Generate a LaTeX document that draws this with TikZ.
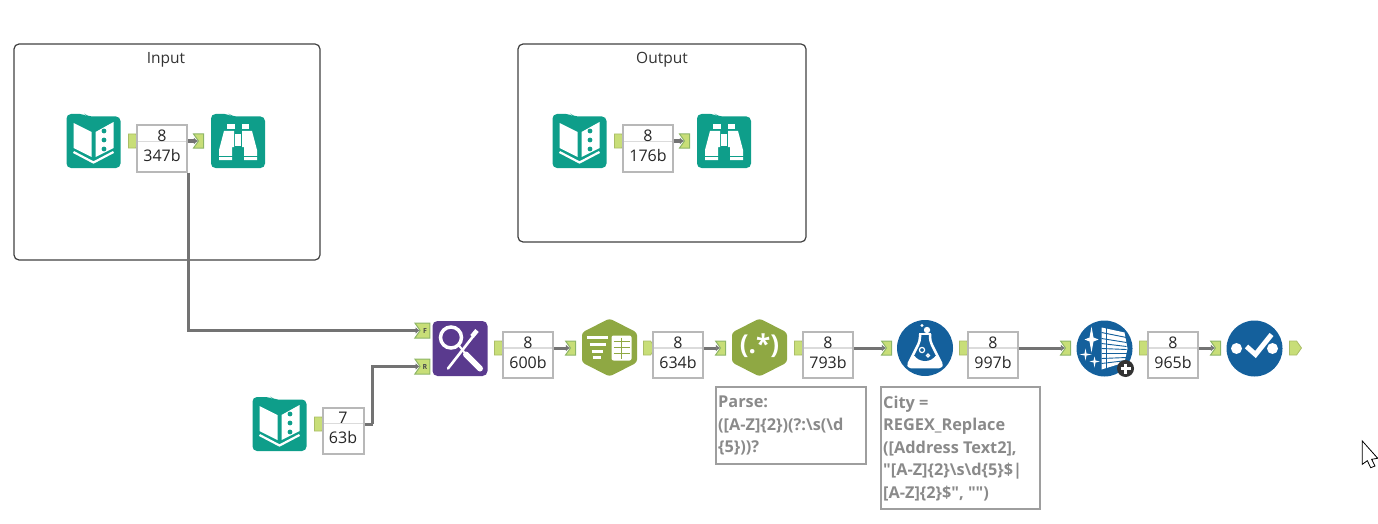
\documentclass[tikz,border=0pt]{standalone}
\usepackage{fontspec}
\setmainfont{Open Sans}
\newfontfamily\notefont{Open Sans}
\usetikzlibrary{shapes.geometric,shapes.symbols,arrows.meta}
\definecolor{teal1}{HTML}{0E9E8A}
\definecolor{purple1}{HTML}{5A3A8E}
\definecolor{olive1}{HTML}{8FA843}
\definecolor{blue1}{HTML}{14609C}
\definecolor{portfill}{HTML}{C8DE78}
\definecolor{portline}{HTML}{8DB567}
\tikzset{
  container/.style={draw=black!75, line width=1.2pt, rounded corners=5pt},
  containertitle/.style={font=\fontsize{15.5}{18}\selectfont, text=black!80, inner sep=0pt},
  statbox/.style={draw=black!28, line width=2pt, fill=white, minimum width=50pt, minimum height=46pt, inner sep=0pt, align=center, text=black!85,
    font=\fontsize{16}{20}\selectfont, execute at end node=\rule[-5pt]{0pt}{0pt},
    path picture={\draw[draw=black!14, line width=1.5pt] ([yshift=7pt]path picture bounding box.west) -- ([yshift=7pt]path picture bounding box.east);}},
  wire/.style={draw=black!55, line width=3pt, -{Latex[length=4pt,width=7pt]}},
  wirestub/.style={draw=black!55, line width=3pt},
  outport/.style={signal, signal to=east, signal from=nowhere, signal pointer angle=110, fill=portfill, draw=portfill!85!black, line width=.8pt, minimum width=12pt, minimum height=14pt, inner sep=0pt},
  inport/.style={signal, signal from=west, signal to=nowhere, signal pointer angle=110, fill=portfill, draw=portline, line width=1pt, minimum width=10pt, minimum height=14pt, inner sep=0pt},
  lettered/.style={minimum width=15pt, minimum height=15pt, font=\fontsize{7}{8}\bfseries\selectfont, text=black!70},
  notebox/.style={draw=black!38, line width=1.5pt},
  note/.style={anchor=north west, inner sep=0pt, text=black!46, align=left, font=\notefont\fontsize{16.3}{22.4}\selectfont\bfseries},
  bookicon/.pic={
    \fill[teal1, rounded corners=4.5pt] (-27,-27) -- (-9,-27) -- (-6,-24.5) -- (27,-24.5) -- (27,27) -- (-27,27) -- cycle;
    \fill[white] (-20,-18) -- (-2,-9) -- (-2,16) -- (-20,7) -- cycle;
    \fill[white] (20,-19) -- (2,-9) -- (2,16) -- (20,7) -- cycle;
    \draw[white, line width=2.2pt] (-20,11) -- (0,21.5) -- (20,11);
    \fill[teal1] (10.5,-10) circle (2.4) (10.5,-1) circle (2.4) (10.5,8) circle (2.4);
  },
  browseicon/.pic={
    \fill[teal1, rounded corners=4.5pt] (-27,-27) -- (-9,-27) -- (-6,-24.5) -- (27,-24.5) -- (27,27) -- (-27,27) -- cycle;
    \fill[white] (-11,-17) rectangle (-3.5,-12);
    \fill[white] (3.5,-17) rectangle (11,-12);
    \fill[white] (-14,-10) -- (-4,-10) -- (-4,6) -- (-6,6) -- (-6,19) -- (-19,19) -- (-19,9) -- cycle;
    \fill[white] (14,-10) -- (4,-10) -- (4,6) -- (6,6) -- (6,19) -- (19,19) -- (19,9) -- cycle;
    \fill[white] (-3,-7) rectangle (3,5);
    \draw[teal1, line width=1pt] (-20,15.5) -- (20,15.5);
  },
  jointicon/.pic={
    \fill[purple1] (-27.5,-27.5) [rounded corners=5pt] rectangle (27.5,27.5);
    \draw[white, line width=3.5pt] (-9,-11) circle (10.5);
    \draw[white, line width=2pt] (-1,-3) -- (6,6);
    \draw[white, line width=6pt, line cap=round] (6,6) -- (20,20);
    \draw[white, line width=2.6pt, line cap=round] (13,-12) -- (-12,20);
    \draw[white, line width=4.5pt] (12,-12) -- (17,-18);
  },
  texticon/.pic={
    \fill[olive1, rounded corners=3pt] (0,-29) -- (27.5,-15) -- (27.5,15) -- (0,29) -- (-27.5,15) -- (-27.5,-15) -- cycle;
    \foreach \ya/\xa/\xb in {-10/-23/-2, -3/-20/-4, 3.5/-18/-7, 10/-17/-9}
      \draw[white, line width=3pt] (\xa,\ya) -- (\xb,\ya);
    \fill[white, rounded corners=2pt] (2,-12) rectangle (22,13);
    \foreach \ya in {-6,0,6}
      \draw[olive1, line width=1.6pt] (4,\ya) -- (20,\ya);
    \draw[olive1, line width=1.4pt] (12,-10) -- (12,11);
  },
  regexicon/.pic={
    \fill[olive1, rounded corners=3pt] (0,-29) -- (27.5,-15) -- (27.5,15) -- (0,29) -- (-27.5,15) -- (-27.5,-15) -- cycle;
  },
  formulaicon/.pic={
    \fill[blue1] (0,0) circle (28);
    \fill[white] (2,-18) circle (3.2) (-3,-22.5) circle (1.6);
    \fill[white, rounded corners=4pt] (-13,7) -- (13,7) -- (18,19) -- (-18,19) -- cycle;
    \draw[white, line width=2.5pt, line join=round, rounded corners=4pt] (-5,-14) -- (-5,-7) -- (-18,19) -- (18,19) -- (5,-7) -- (5,-14);
    \draw[white, line width=2pt] (-6,-14.5) -- (6,-14.5);
    \fill[blue1] (-11,7) .. controls (-6,15) and (6,15) .. (11,7) -- cycle;
    \draw[white, line width=1.2pt] (-3,2) circle (2.6) (3,7.5) circle (1.5);
  },
  cleanseicon/.pic={
    \fill[blue1] (0,0) circle (28);
    \fill[white] (-3,-21) -- (20,-16) -- (23,0) -- (20,14) -- (-3,21) -- cycle;
    \foreach \ya/\yb in {-16/-11, -10/-6, -5/-2, 0/1, 5/5, 10/9, 15/12}
      \draw[blue1, line width=.9pt] (-3,\ya) -- (22,\yb);
    \draw[blue1, line width=.9pt] (2,-21) -- (2,20);
    \fill[white] (-13,-22) -- (-11,-11) -- (-6,-9) -- (-11,-7) -- (-13,4) -- (-15,-7) -- (-20,-9) -- (-15,-11) -- cycle;
    \fill[white] (-19,0) -- (-18,5) -- (-13,6) -- (-18,7) -- (-19,12) -- (-20,7) -- (-25,6) -- (-20,5) -- cycle;
    \fill[white] (-10,8) -- (-9,12) -- (-5,13) -- (-9,14) -- (-10,19) -- (-11,14) -- (-15,13) -- (-11,12) -- cycle;
    \fill[black!80] (21,20) circle (8.5);
    \draw[white, line width=2.4pt] (16,20) -- (26,20) (21,15) -- (21,25);
  },
  checkicon/.pic={
    \fill[blue1] (0,0) circle (28);
    \fill[white] (-18,0) circle (5.5) (18,0) circle (5.5);
    \draw[white, line width=5pt] (-8,-2) -- (1,6) -- (17,-14);
  },
}
\begin{document}
\begin{tikzpicture}[x=1pt,y=-1pt]
\useasboundingbox (0,0) rectangle (1378,524);
\draw[container] (14,44) rectangle (320,260);
\node[containertitle] (inputtitle) at (166,59.5) {Input};
\draw[container] (518,44) rectangle (806,242);
\node[containertitle] (outputtitle) at (662,59.5) {Output};

\pic at (93.5,141) {bookicon};
\node[outport] (out1) at (132,141) {};
\node[statbox] (box1) at (162,148.5) {8\\347b};
\node[inport] (in1) at (201,141) {};
\pic at (238,141) {browseicon};
\draw[wire] (box1.east |- in1) -- (in1.west);

\pic at (579.5,141) {bookicon};
\node[outport] (out2) at (618,141) {};
\node[statbox] (box2) at (648,148.5) {8\\176b};
\node[inport] (in2) at (687,141) {};
\pic at (724,141) {browseicon};
\draw[wire] (box2.east |- in2) -- (in2.west);

\pic at (279.5,424) {bookicon};
\node[outport] (out3) at (318,424) {};
\node[statbox, minimum width=41pt] (box3) at (343,430.5) {7\\63b};

\pic at (460,348.5) {jointicon};
\node[inport, lettered] (left) at (425,330.5) {F};
\node[inport, lettered] (right) at (425,366.5) {R};
\draw[wire] (box1.south east) |- (left.west);
\draw[wirestub] (box3.east |- out3) -- ++(8,0) coordinate (bend);
\draw[wire] (bend) |- (right.west);

\node[outport] (out4) at (498,348) {};
\node[statbox] (box4) at (528,355) {8\\600b};
\node[inport] (in4) at (573,348) {};
\pic at (609.5,347.5) {texticon};
\draw[wire] (box4.east |- in4) -- (in4.west);

\node[outport] (out5) at (647,348) {};
\node[statbox] (box5) at (678,355) {8\\634b};
\node[inport] (in5) at (723,348) {};
\pic at (759.5,347.5) {regexicon};
\node[text=white, font=\fontsize{26}{30}\bfseries\selectfont, inner sep=0pt] (regex) at (759.5,346) {(.*)};
\draw[wire] (box5.east |- in5) -- (in5.west);

\node[outport] (out6) at (798,348) {};
\node[statbox] (box6) at (828,355) {8\\793b};
\node[inport] (in6) at (889,348) {};
\pic at (925,348) {formulaicon};
\draw[wire] (box6.east |- in6) -- (in6.west);

\node[outport] (out7) at (963,348) {};
\node[statbox] (box7) at (993,355) {8\\997b};
\node[inport] (in7) at (1068,348) {};
\pic at (1104.5,348.5) {cleanseicon};
\draw[wire] (box7.east |- in7) -- (in7.west);

\node[outport] (out8) at (1143,348) {};
\node[statbox] (box8) at (1173,355) {8\\965b};
\node[inport] (in8) at (1218,348) {};
\pic at (1254.5,348.5) {checkicon};
\draw[wire] (box8.east |- in8) -- (in8.west);
\node[outport] (out9) at (1293,348) {};

\draw[notebox] (716,387) rectangle (866,464);
\node[note] (parsenote) at (718,396) {Parse:\\([A-Z]\{2\})(?:\textbackslash s(\textbackslash d\\\{5\}))?};
\draw[notebox] (881,387) rectangle (1040,509);
\node[note] (citynote) at (883,396) {City =\\REGEX\_Replace\\([Address Text2],\\"[A-Z]\{2\}\textbackslash s\textbackslash d\{5\}\$|\\{}[A-Z]\{2\}\$", "")};

\draw[fill=white, line width=.8pt, line join=miter] (1362.3,441) -- (1362.3,464.3) -- (1367.3,460.7) -- (1370.7,467.7) -- (1375,466) -- (1371.7,459.3) -- (1377.7,458.3) -- cycle;
\end{tikzpicture}
\end{document}
